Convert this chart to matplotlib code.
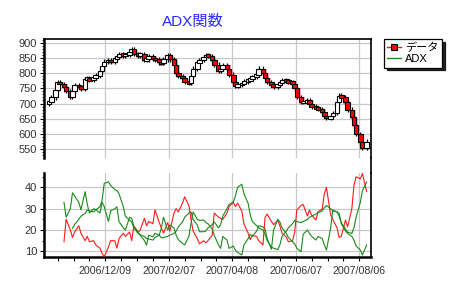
import matplotlib
matplotlib.use('Agg')
import matplotlib.pyplot as plt
import matplotlib.dates as mdates
from matplotlib.lines import Line2D
from matplotlib.ticker import FixedLocator, MultipleLocator
import numpy as np
import pandas as pd

plt.rcParams['font.family'] = ['Liberation Sans', 'Noto Sans CJK JP', 'DejaVu Sans']

# ---- data (one value every second trading day) ----
first_open = 700
close = [705, 720, 745, 770, 765, 755, 740, 722, 740, 760,
         755, 748, 780, 782, 778, 785, 792, 808, 822, 838,
         842, 838, 848, 852, 862, 858, 860, 868, 878, 862,
         858, 862, 842, 845, 855, 848, 845, 835, 832, 845,
         860, 845, 828, 800, 790, 785, 772, 768, 790, 815,
         835, 842, 852, 860, 855, 842, 828, 806, 815, 826,
         815, 795, 772, 758, 760, 768, 772, 778, 782, 788,
         794, 815, 800, 785, 770, 762, 755, 762, 770, 776,
         775, 771, 765, 752, 722, 705, 705, 710, 700, 690,
         686, 682, 672, 660, 652, 658, 670, 705, 726, 720,
         705, 680, 655, 628, 600, 572, 555, 575]

plus_di = [None] * 5 + [
    14.5, 25, 20, 16.5, 19, 22, 18.5, 15, 17, 14.5,
    15, 13, 11.5, 9, 7.5, 12, 15, 15, 11.5, 16,
    18.5, 17, 19, 15, 22, 19, 20, 25.5, 22, 24,
    23, 29.5, 23.5, 21, 18.5, 23.5, 19.5, 28, 30, 28.5,
    32.6, 35.6, 31.5, 25, 19.5, 16, 13.5, 15, 14, 15,
    17.5, 28, 26, 25.5, 25, 28, 31, 33, 31, 32.6,
    29, 23, 18.5, 15.5, 17.5, 17, 15, 13, 26, 27.5,
    24, 22.5, 24.5, 22, 18.5, 16.8, 14.5, 15, 19, 29.4,
    31.5, 32, 26.5, 29.4, 27, 24.7, 28.5, 30, 37, 40,
    27, 25, 21, 16.5, 17, 24.7, 21.5, 30, 41, 45,
    44, 46.5, 38]

minus_di = [None] * 5 + [
    33, 26, 30, 37.5, 36, 33, 29.5, 38, 32, 28,
    30, 29.5, 28, 33, 31, 24, 29, 30, 30.9, 24,
    21, 20, 26, 25.5, 21.5, 19.2, 17.5, 15, 13, 17.6,
    16.8, 18.5, 17.6, 21, 26, 20, 22.3, 21, 17.5, 15.5,
    13.7, 13, 17, 23, 28.5, 25, 24.5, 24.7, 23.5, 23,
    20.5, 17.5, 13, 11.4, 17, 15.3, 11.4, 12.5, 10.5, 9.5,
    8.3, 13, 16, 18, 17, 19.5, 22, 21.5, 20.5, 16,
    11, 20, 25, 23.8, 21, 18.5, 16.5, 14.5, 13.5, 11.5,
    9.8, 18, 20, 18.4, 17, 15.3, 17, 16, 13, 10.6,
    21, 29.4, 28.5, 27.8, 23, 19.5, 18.4, 17, 15.3, 12.5,
    10.6, 8.3, 13]

adx = [None] * 8 + [
    20.8, 22.5, 25, 26.5, 27.8, 29.4, 29, 28.5, 29.5, 30.9,
    34, 41.9, 42.6, 41, 39, 38.5, 37, 31, 26.5, 24.5,
    23.8, 21, 18.4, 17.8, 17, 16, 15.8, 15.3, 16.5, 17.6,
    16.3, 16.5, 17, 17.6, 18.5, 19.5, 21.5, 23.8, 26, 28,
    28.5, 25, 22.3, 19.2, 19.2, 19.5, 21, 22.5, 23.8, 21,
    22.5, 26.5, 30, 32, 33.2, 36, 40, 41.5, 37, 32.5,
    27, 24, 22, 21, 20, 18, 15, 12, 11.5, 10.8,
    13, 17, 19.5, 21, 23, 24.5, 24, 23.5, 24, 25,
    26, 26.5, 27.5, 28, 29, 30.5, 31.5, 30, 29, 28.5,
    26.5, 23.5, 20.5, 19, 18.4, 21, 26, 33, 38.5, 42.5]

date_labels = ['2006/12/09', '2007/02/07', '2007/04/08', '2007/06/07', '2007/08/06']
top_yticks = [550, 600, 650, 700, 750, 800, 850, 900]
bottom_yticks = [10, 20, 30, 40]
legend_labels = ['データ', 'ADX']
title_text = 'ADX関数'

# ---- derived ----
dates = pd.bdate_range('2006-10-17', periods=2 * len(close))[::2]
x = mdates.date2num(dates)
opens = np.array([first_open] + close[:-1], dtype=float)
closes = np.array(close, dtype=float)
up = closes >= opens
WICK = 7.0
MIN_BODY = 9.0
body_lo = np.minimum(opens, closes)
body_hi = np.maximum(opens, closes)
body_h = np.maximum(body_hi - body_lo, MIN_BODY)
body_b = (body_lo + body_hi) / 2 - body_h / 2
highs = body_hi + WICK
lows = body_lo - WICK

def arr(v):
    return np.array([np.nan if a is None else a for a in v], dtype=float)

W, H = 454, 290
fig = plt.figure(figsize=(W / 100, H / 100), dpi=100)
L, R = 44, 371
ax1 = fig.add_axes([L / W, 1 - 158 / H, (R - L) / W, (158 - 39) / H])
ax2 = fig.add_axes([L / W, 1 - 257.3 / H, (R - L) / W, (257.3 - 172.7) / H], sharex=ax1)

grid_c = '#c8c8c8'
for ax in (ax1, ax2):
    ax.set_axisbelow(True)
    ax.grid(True, which='major', color=grid_c, lw=0.9)
    for s in ax.spines.values():
        s.set_color('black')
        s.set_linewidth(1.2)
    ax.spines['left'].set_linewidth(1.8)
    ax.tick_params(axis='y', which='major', length=3, width=0.8, labelsize=8,
                   labelcolor='#333333', pad=2)
    ax.tick_params(axis='y', which='minor', length=1.5, width=0.6)

ax1.spines['bottom'].set_visible(False)
ax2.spines['top'].set_visible(False)
ax2.spines['bottom'].set_linewidth(1.8)

# candles
red = ~up
ax1.bar(x[red] + 0.8, body_h[red] + 4, bottom=body_b[red] - 5, width=5.5,
        color='#ff8080', alpha=0.55, linewidth=0, zorder=2)
ax1.vlines(x, lows, highs, color='black', lw=0.9, zorder=3)
ax1.bar(x, body_h, bottom=body_b, width=4.3,
        color=np.where(up, 'white', '#ff0000'), edgecolor='black',
        linewidth=0.8, zorder=4)

ax1.set_ylim(521, 912)
ax1.set_yticks(top_yticks)
ax1.yaxis.set_minor_locator(MultipleLocator(10))

# indicator lines
ax2.plot(x, arr(plus_di), color='#ff1a1a', lw=0.8, zorder=3)
ax2.plot(x, arr(minus_di), color='#1a8a1a', lw=0.8, zorder=3)
ax2.plot(x, arr(adx), color='#1a8a1a', lw=0.8, zorder=3)
ax2.set_ylim(7.2, 46.9)
ax2.set_yticks(bottom_yticks)
ax2.yaxis.set_minor_locator(MultipleLocator(5))

# x axis
d0 = mdates.date2num(pd.Timestamp('2006-12-09'))
ax1.set_xlim(d0 - 57.9, d0 + 251.1)
major = [mdates.date2num(pd.Timestamp(s.replace('/', '-'))) for s in date_labels]
ax2.xaxis.set_major_locator(FixedLocator(major))
ax2.xaxis.set_major_formatter(mdates.DateFormatter('%Y/%m/%d'))
ax2.xaxis.set_minor_locator(FixedLocator(np.arange(d0 - 45, d0 + 251, 15)))
ax2.tick_params(axis='x', which='both', length=3, width=0.8, labelsize=7.7,
                labelcolor='#333333', pad=3)
ax1.tick_params(axis='x', which='both', bottom=False, labelbottom=False)

# right frame line across the gap
fig.add_artist(Line2D([R / W, R / W], [1 - 158 / H, 1 - 172.7 / H],
                      color='black', lw=1.2, transform=fig.transFigure))

# title
fig.text(193 / W, 1 - 21.7 / H, title_text, color='#2a2aff', fontsize=11,
         ha='center', va='center')

# legend
handles = [Line2D([], [], color='#ff1a1a', lw=1, marker='s', markersize=5,
                  markerfacecolor='#ff0000', markeredgecolor='black', markeredgewidth=0.8),
           Line2D([], [], color='#1a8a1a', lw=1)]
leg = fig.legend(handles, legend_labels, loc='upper left',
                 bbox_to_anchor=(384 / W, 1 - 39 / H), frameon=True, fancybox=False,
                 edgecolor='black', framealpha=1, fontsize=8, handlelength=1.2,
                 borderpad=0.3, labelspacing=0.15, handletextpad=0.4, borderaxespad=0,
                 shadow={'color': 'black', 'alpha': 0.85})
leg.get_frame().set_linewidth(0.9)

fig.savefig('out.png', dpi=100)
